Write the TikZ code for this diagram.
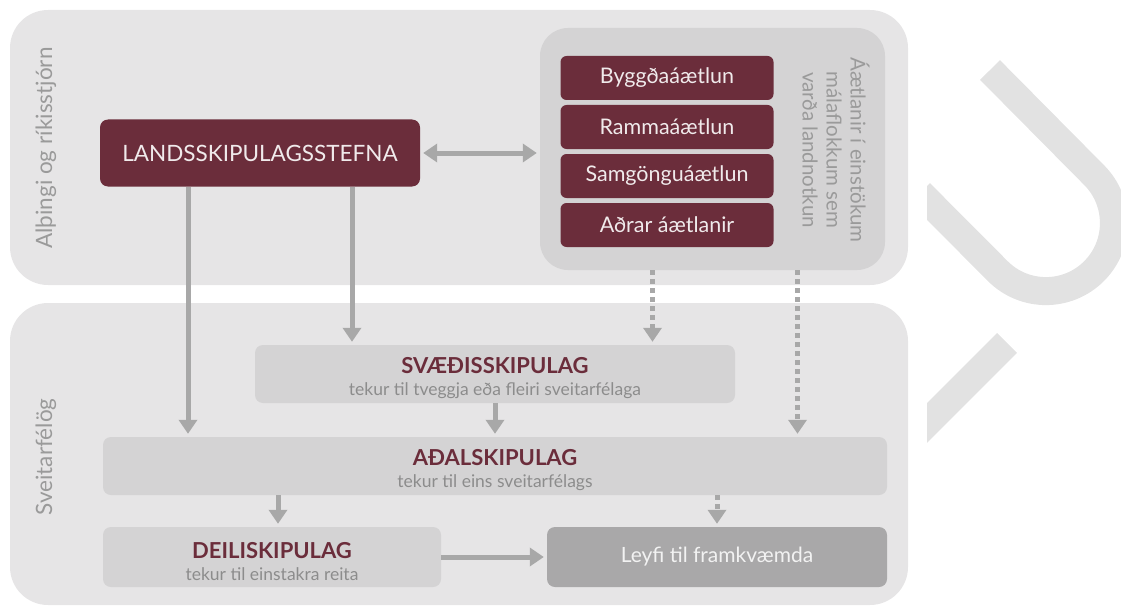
\documentclass[tikz,border=0pt]{standalone}
\usepackage{fontspec}
\setmainfont{Lato}
\usetikzlibrary{arrows.meta}
\definecolor{panelgray}{HTML}{E6E5E6}
\definecolor{boxgray}{HTML}{D4D3D4}
\definecolor{darkbox}{HTML}{A9A8A9}
\definecolor{maroon}{HTML}{6B2D3B}
\definecolor{arrowgray}{HTML}{A8A8A8}
\definecolor{labelgray}{HTML}{9A9A9A}
\definecolor{subgray}{HTML}{8C8C8C}
\definecolor{logogray}{HTML}{E2E2E2}

\begin{document}
\begin{tikzpicture}[x=1pt,y=-1pt]
\tikzstyle{panel}=[fill=panelgray,rounded corners=38pt]
\tikzstyle{plan}=[fill=maroon,text=white!90!maroon,rounded corners=6pt,inner sep=0pt,
  minimum width=213pt,minimum height=44pt,font=\fontsize{21.5}{24}\selectfont]
\tikzstyle{level}=[fill=boxgray,rounded corners=8pt,inner sep=0pt,align=center,
  minimum height=58pt,font=\fontsize{17.5}{22}\selectfont,text=subgray]
\tikzstyle{side}=[text=labelgray,font=\fontsize{22.5}{26}\selectfont,rotate=90]
\tikzstyle{arr}=[arrowgray,line width=5pt,-{Triangle[width=18pt,length=14pt]},shorten >=3pt]
\tikzstyle{darr}=[arr,dash pattern=on 5pt off 4pt]
\newcommand{\lvltitle}[1]{{\color{maroon}\bfseries\fontsize{22}{24}\selectfont\rule{0pt}{25pt}#1}}
\useasboundingbox (0,0) rectangle (1121,607);

% logo in the background
\begin{scope}
\clip (927,0) rectangle (1121,607);
\draw[logogray,line width=28pt] (990,70) -- (1094,175)
  arc[start angle=45,end angle=-135,radius=68pt] -- (920,193);
\draw[logogray,line width=28pt] (1007,343) -- (912,438);
\end{scope}

% the two levels
\fill[panel] (10,10) rectangle (908,285);
\fill[panel] (10,303) rectangle (908,605);
\node[side] (state) at (46,148) {Alþingi og ríkisstjórn};
\node[side] (munic) at (46,457) {Sveitarfélög};

\node[fill=maroon,text=white!90!maroon,rounded corners=8pt,minimum width=320pt,minimum height=67pt,
  font=\fontsize{22.5}{26}\selectfont] (lands) at (260,153) {LANDSSKIPULAGSSTEFNA};

\node[fill=boxgray,rounded corners=28pt,minimum width=345pt,minimum height=242pt] (plans) at (712.5,149) {};
\node[plan] (byggd) at (667,78) {Byggðaáætlun};
\node[plan] (ramma) at (667,127) {Rammaáætlun};
\node[plan] (samg) at (667,176) {Samgönguáætlun};
\node[plan] (adrar) at (667,225) {Aðrar áætlanir};
\node[rotate=-90,align=center,text=labelgray,font=\fontsize{20.5}{24}\selectfont] (plantxt) at (836,150)
  {Áætlanir í einstökum\\málaflokkum sem\\varða landnotkun};

\node[level,minimum width=480pt] (svaedi) at (495,374)
  {\lvltitle{SVÆÐISSKIPULAG}\\tekur til tveggja eða fleiri sveitarfélaga};
\node[level,minimum width=784pt] (adal) at (495,466)
  {\lvltitle{AÐALSKIPULAG}\\tekur til eins sveitarfélags};
\node[level,minimum width=338pt,minimum height=60pt] (deili) at (272,557)
  {\lvltitle{DEILISKIPULAG}\\tekur til einstakra reita};
\node[fill=darkbox,rounded corners=8pt,minimum width=340pt,minimum height=60pt,text=white!85!darkbox,
  font=\fontsize{21}{24}\selectfont] (leyfi) at (717,557) {Leyfi til framkvæmda};

% connectors
\draw[arrowgray,line width=5pt,{Triangle[width=18pt,length=14pt]}-{Triangle[width=18pt,length=14pt]},
  shorten <=3pt,shorten >=3pt] (lands) -- (lands -| plans.west);
\draw[arr] ([xshift=-72pt]lands.south) -- ([xshift=-72pt]lands.south |- adal.north);
\draw[arr] ([xshift=92pt]lands.south) -- ([xshift=92pt]lands.south |- svaedi.north);
\draw[darr] ([xshift=-60pt]plans.south) -- ([xshift=-60pt]plans.south |- svaedi.north);
\draw[darr] ([xshift=85pt]plans.south) -- ([xshift=85pt]plans.south |- adal.north);
\draw[arr] (svaedi.south) -- (svaedi.south |- adal.north);
\draw[arr] ([xshift=6pt]deili.north |- adal.south) -- ([xshift=6pt]deili.north);
\draw[darr] (leyfi.north |- adal.south) -- (leyfi.north);
\draw[arr] (deili) -- (leyfi);
\end{tikzpicture}
\end{document}
